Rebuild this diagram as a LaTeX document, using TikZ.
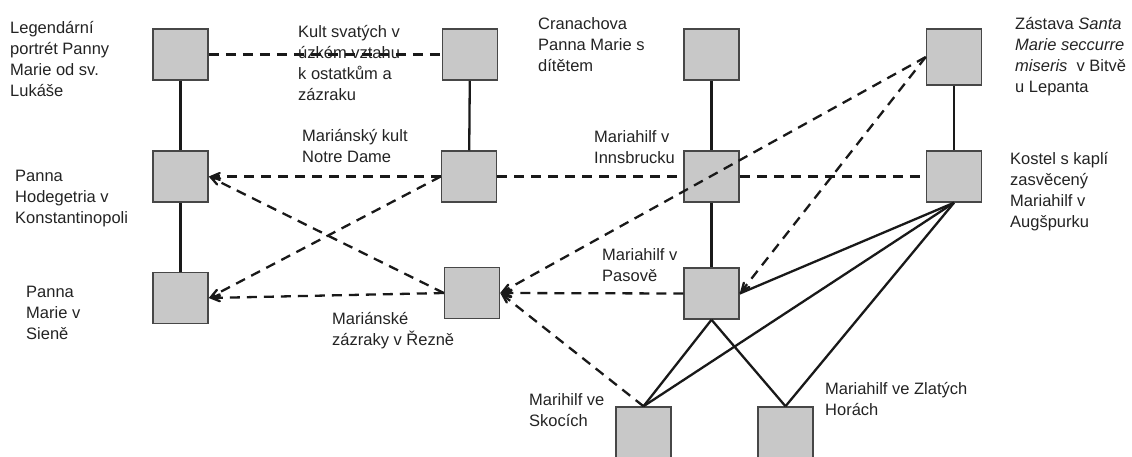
\documentclass[tikz,border=0pt]{standalone}
\usepackage{fontspec}
\setmainfont{Liberation Sans}
\usepackage{tikz}
\usetikzlibrary{arrows}
\definecolor{boxgray}{RGB}{200,200,200}
\definecolor{linegray}{RGB}{25,25,25}
\definecolor{txtgray}{RGB}{35,35,35}

\begin{document}
\begin{tikzpicture}[x=1pt,y=-1pt,>=angle 45,
  box/.style={draw=linegray!80,fill=boxgray,line width=1.5pt,minimum width=55pt,minimum height=51pt,inner sep=0},
  lbl/.style={anchor=base west,align=left,inner sep=0,text=txtgray,font=\fontsize{16.5}{21}\selectfont},
  link/.style={draw=linegray,line width=2.3pt},
  dlink/.style={draw=linegray,line width=2.3pt,dash pattern=on 10pt off 7pt}]
  \useasboundingbox (0,0) rectangle (1132,456);
  %% boxes
  \node[box] at (180.5,54.5) (L1) {};
  \node[box] at (470,54.5) (K) {};
  \node[box] at (711.5,54.5) (C) {};
  \node[box,minimum height=56pt] at (954,57) (Z) {};
  \node[box] at (180.5,176.5) (H) {};
  \node[box] at (469,176.5) (N) {};
  \node[box] at (711.5,176.5) (I) {};
  \node[box] at (954,176.5) (A) {};
  \node[box] at (180.5,298) (S) {};
  \node[box] at (472,293) (R) {};
  \node[box] at (711.5,293.5) (P) {};
  \node[box] at (643.5,432.5) (Sk) {};
  \node[box] at (785.5,432.5) (ZH) {};

  %% labels (base = last line)
  \node[lbl] at (10,96) (tL1) {Legendární\\portrét Panny\\Marie od sv.\\Lukáše};
  \node[lbl] at (298,100) (tK) {Kult svatých v\\úzkém vztahu\\k ostatkům a\\zázraku};
  \node[lbl] at (538,71) (tC) {Cranachova\\Panna Marie s\\dítětem};
  \node[lbl] at (1015,92) (tZ) {Zástava \textit{Santa}\\\textit{Marie seccurre}\\\textit{miseris}\ \ v Bitvě\\u Lepanta};
  \node[lbl] at (302,162) (tN) {Mariánský kult\\Notre Dame};
  \node[lbl] at (594,163) (tI) {Mariahilf v\\Innsbrucku};
  \node[lbl] at (1010,227) (tA) {Kostel s kaplí\\zasvěcený\\Mariahilf v\\Augšpurku};
  \node[lbl] at (15,223) (tH) {Panna\\Hodegetria v\\Konstantinopoli};
  \node[lbl] at (26,339) (tS) {Panna\\Marie v\\Sieně};
  \node[lbl] at (332,345) (tR) {Mariánské\\zázraky v Řezně};
  \node[lbl] at (602,281) (tP) {Mariahilf v\\Pasově};
  \node[lbl] at (529,426) (tSk) {Marihilf ve\\Skocích};
  \node[lbl] at (825,415) (tZH) {Mariahilf ve Zlatých\\Horách};

  %% solid links
  \draw[link] (L1) -- (H);
  \draw[link] (H) -- (S);
  \draw[link] (K) -- (N);
  \draw[link] (C) -- (I);
  \draw[link] (I) -- (P);
  \draw[link] (Z) -- (A);
  \draw[link] (A.south) -- (P.east);
  \draw[link] (A.south) -- (Sk.north);
  \draw[link] (A.south) -- (ZH.north);
  \draw[link] (P.south) -- (Sk.north);
  \draw[link] (P.south) -- (ZH.north);

  %% dashed links
  \draw[dlink] (L1.east) -- (K.west);
  \draw[dlink,->] (N.west) -- (H.east);
  \draw[dlink,->] (R.west) -- (H.east);
  \draw[dlink,->] (N.west) -- (S.east);
  \draw[dlink,->] (R.west) -- (S.east);
  \draw[dlink] (N.east) -- (I.west);
  \draw[dlink] (I.east) -- (A.west);
  \draw[dlink,->] (P.west) -- (R.east);
  \draw[dlink,->] (Z.west) -- (R.east);
  \draw[dlink,->] (Sk.north) -- (R.east);
  \draw[dlink,->] (Z.west) -- (P.east);
\end{tikzpicture}
\end{document}
